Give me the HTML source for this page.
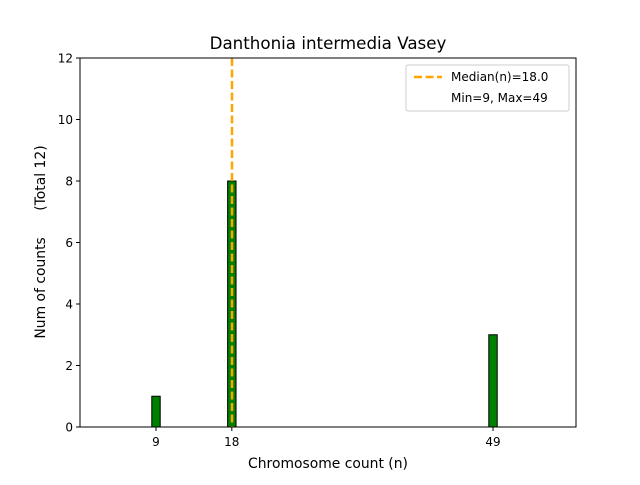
<!DOCTYPE html>
<html><head><meta charset="utf-8"><style>
body{margin:0;background:#fff;font-family:"Liberation Sans","DejaVu Sans",sans-serif}
svg text{font-family:"DejaVu Sans","Liberation Sans",sans-serif}
</style></head><body>
<svg width="640" height="480" xmlns="http://www.w3.org/2000/svg">
<text x="328" y="49" font-size="16.7" text-anchor="middle">Danthonia intermedia Vasey</text>
<g id="bars"></g>
<line x1="232" y1="58" x2="232" y2="427" stroke="#ffa500" stroke-width="2.5" stroke-dasharray="8,3.5"/>
<rect x="80" y="58" width="496" height="369" fill="none" stroke="#000" stroke-width="1"/>
<g id="yticks"></g><g id="xticks"></g>
<text x="328" y="468" font-size="13.9" text-anchor="middle">Chromosome count (n)</text>
<text transform="translate(45,242) rotate(-90)" font-size="13.9" text-anchor="middle" style="white-space:pre" xml:space="preserve">Num of counts      (Total 12)</text>
<g>
<rect x="406" y="65" width="163" height="46" fill="#fff" fill-opacity="0.8" stroke="#ccc" rx="2"/>
<line x1="414" y1="77" x2="442" y2="77" stroke="#ffa500" stroke-width="2.5" stroke-dasharray="8,3.5"/>
<text x="451" y="81" font-size="12">Median(n)=18.0</text>
<text x="451" y="102" font-size="12">Min=9, Max=49</text>
</g>
</svg>
<script>
const categories=[9,18,49];
const counts=[1,8,3];
const yTicks=[0,2,4,6,8,10,12];
const xTicks=[9,18,49];
const NS="http://www.w3.org/2000/svg";
const L=80,R=576,T=58,B=427;
const xMin=9-76/8.425, xMax=xMin+496/8.425;
const X=v=>L+(v-xMin)/(xMax-xMin)*(R-L);
const Y=v=>B-(v/12)*(B-T);
function mk(tag,attrs,parent){const e=document.createElementNS(NS,tag);for(const k in attrs)e.setAttribute(k,attrs[k]);parent.appendChild(e);return e;}
const bars=document.getElementById('bars');
categories.forEach((c,i)=>{
  const x0=X(c-0.5),x1=X(c+0.5);
  const r=mk('rect',{x:x0,y:Y(counts[i]),width:x1-x0,height:Y(0)-Y(counts[i]),fill:'#008000',stroke:'#000','stroke-width':1},bars);
  
  
});
const yt=document.getElementById('yticks');
yTicks.forEach(v=>{
  const l=mk('line',{x1:L-4,x2:L,y1:Y(v),y2:Y(v),stroke:'#000'},yt);
  
  
  const t=mk('text',{x:L-7,y:Y(v)+4.5,'font-size':12,'text-anchor':'end'},yt);
  t.textContent=v;
  
  
});
const xt=document.getElementById('xticks');
xTicks.forEach(v=>{
  const l=mk('line',{x1:X(v),x2:X(v),y1:B,y2:B+4,stroke:'#000'},xt);
  
  
  const t=mk('text',{x:X(v),y:B+19,'font-size':12,'text-anchor':'middle'},xt);
  t.textContent=v;
  
  
});
</script>
</body></html>
